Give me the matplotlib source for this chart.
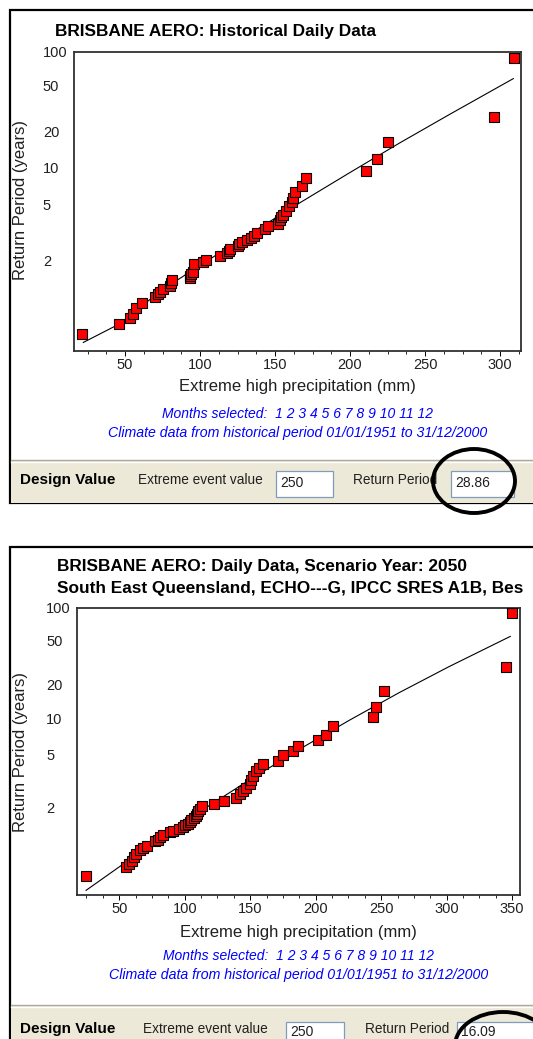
import numpy as np
import matplotlib
matplotlib.use("Agg")
import matplotlib.pyplot as plt
from matplotlib.patches import Rectangle, Ellipse

# ============================================================
# Data
# ============================================================

W, H = 533, 1039

hist_mm = [21.5, 46, 53.5, 55, 57.5, 61.5, 70, 72, 73.5, 75, 80, 80.5, 81,
           93, 93.5, 94, 95, 96, 102, 104, 113, 118, 119, 120, 125, 126, 128,
           131, 134, 136, 138, 143, 145, 152, 153, 154, 155, 157, 159, 161,
           162, 163.5, 168, 170.5, 210.5, 218, 225, 296, 309]
hist_rp = [1.046, 1.084, 1.12, 1.146, 1.19, 1.24, 1.30, 1.33, 1.36, 1.40,
           1.45, 1.50, 1.55, 1.58, 1.62, 1.66, 1.71, 1.89, 1.95, 2.00, 2.12,
           2.20, 2.27, 2.34, 2.45, 2.53, 2.62, 2.70, 2.80, 2.90, 3.02, 3.25,
           3.40, 3.55, 3.75, 3.95, 4.15, 4.45, 4.80, 5.2, 5.6, 6.2, 7.0, 8.2,
           9.3, 11.8, 16.2, 27.0, 88.0]
hist_fit_mm = [22.2, 46.7, 73.3, 100, 133.3, 166.7, 200, 233.3, 266.7, 308.9]
hist_fit_rp = [1.0255, 1.0875, 1.369, 1.86, 2.99, 5.14, 9.04, 16.1, 28.4, 57.9]

scen_mm = [24.5, 55.5, 57.5, 59.5, 61, 62.5, 66, 68.5, 71.5, 77, 79.5, 81,
           83.5, 88.5, 91, 96, 99, 100.5, 102.5, 104, 105, 107, 108.5, 109.5,
           110.5, 111.5, 113.5, 122, 130, 139, 142, 144.5, 147, 149.5, 150.5,
           152.5, 154.5, 156.5, 159.5, 171.5, 175, 183, 186.5, 201.5, 208,
           213, 243.5, 246, 252, 345, 350]
scen_rp = [1.057, 1.099, 1.115, 1.135, 1.165, 1.19, 1.225, 1.245, 1.265,
           1.32, 1.345, 1.385, 1.415, 1.45, 1.475, 1.51, 1.55, 1.58, 1.61,
           1.64, 1.68, 1.73, 1.78, 1.84, 1.90, 1.97, 2.05, 2.12, 2.22, 2.33,
           2.46, 2.59, 2.74, 2.93, 3.1, 3.36, 3.63, 3.86, 4.15, 4.42, 4.95,
           5.33, 5.88, 6.56, 7.29, 8.56, 10.3, 12.6, 17.6, 28.6, 90.0]
scen_fit_mm = [24.7, 73.4, 111.4, 149.5, 187.5, 225.6, 263.6, 301.7, 348.6]
scen_fit_rp = [1.019, 1.275, 1.885, 3.128, 5.47, 9.66, 16.9, 28.95, 54.5]

rp_ticks = [2, 5, 10, 20, 50, 100]

hist_title = ["BRISBANE AERO: Historical Daily Data"]
# the second line is cut at the window edge in the screenshot
scen_title = ["BRISBANE AERO: Daily Data, Scenario Year: 2050",
              "South East Queensland, ECHO---G, IPCC SRES A1B, Bes"]
months_text = "Months selected:  1 2 3 4 5 6 7 8 9 10 11 12"
period_text = "Climate data from historical period 01/01/1951 to 31/12/2000"
event_value = "250"
hist_period = "28.86"
scen_period = "16.09"

# ============================================================
# Gumbel probability scale
# ============================================================

def gumbel_fwd(t):
    t = np.clip(np.asarray(t, dtype=float), 1.000001, None)
    return -np.log(-np.log(1.0 - 1.0 / t))


def gumbel_inv(y):
    y = np.asarray(y, dtype=float)
    return 1.0 / (1.0 - np.exp(-np.exp(-y)))


FONT = "Liberation Sans"
plt.rcParams["font.family"] = [FONT, "DejaVu Sans"]

fig = plt.figure(figsize=(W / 100, H / 100), dpi=100)

bg = fig.add_axes([0, 0, 1, 1], zorder=0)
bg.set_xlim(0, W)
bg.set_ylim(H, 0)
bg.axis("off")

BEIGE = "#ece9d8"
BLUE = "#0000ff"
GREYTXT = "#202020"


def px_axes(l, t, r, b):
    return fig.add_axes([l / W, 1 - b / H, (r - l) / W, (b - t) / H], zorder=2)


def panel(top, bottom, bar_top):
    bg.add_patch(Rectangle((10, top), 600, bottom - top, facecolor="white",
                           edgecolor="black", linewidth=1.6, zorder=1))
    bg.add_patch(Rectangle((11, bar_top), 600, bottom - bar_top,
                           facecolor=BEIGE, edgecolor="none", zorder=2))
    bg.plot([11, 600], [bar_top, bar_top], color="#aca899", lw=1.0, zorder=3)
    bg.plot([11, 600], [bar_top + 1.5, bar_top + 1.5], color="white",
            lw=1.0, zorder=3)


def text_box(x0, y0, x1, y1, txt, ty):
    bg.add_patch(Rectangle((x0, y0), x1 - x0, y1 - y0, facecolor="white",
                           edgecolor="#7f9db9", linewidth=0.9, zorder=4))
    bg.text(x0 + 4, ty, txt, fontsize=10, ha="left", va="center",
            color=GREYTXT, zorder=5)


def chart(box, mm, rp, fit_mm, fit_rp, xlim, xmajor, titles, title_x,
          title_y, ylab_y, xlab_y, blue_y):
    ax = px_axes(*box)
    ax.set_yscale("function", functions=(gumbel_fwd, gumbel_inv))
    ax.plot(fit_mm, fit_rp, color="black", lw=0.8, zorder=2)
    ax.plot(mm, rp, linestyle="none", marker="s", markersize=7.6,
            markerfacecolor="#ff0000", markeredgecolor="black",
            markeredgewidth=0.8, zorder=3, clip_on=False)
    ax.set_xlim(*xlim)
    ax.set_ylim(1.0125, 100)
    ax.set_yticks(rp_ticks)
    ax.set_yticklabels([str(v) for v in rp_ticks])
    ax.yaxis.set_minor_locator(matplotlib.ticker.NullLocator())
    ax.set_xticks(xmajor)
    ax.set_xticklabels([str(v) for v in xmajor])
    minors = np.arange(0, xlim[1] + 1, 12.5)
    ax.set_xticks([m for m in minors if xlim[0] <= m <= xlim[1]], minor=True)
    ax.tick_params(axis="y", length=0, pad=22.5, labelsize=10.5,
                   labelcolor=GREYTXT)
    for lab in ax.get_yticklabels():
        lab.set_horizontalalignment("left")
    ax.tick_params(axis="x", which="major", direction="out", length=3.5,
                   width=0.7, pad=1.5, labelsize=10.5, labelcolor=GREYTXT)
    ax.tick_params(axis="x", which="minor", direction="out", length=2.5,
                   width=0.6)
    for s in ax.spines.values():
        s.set_linewidth(1.3)
        s.set_color("#303030")

    l, t, r, b = box
    for i, line in enumerate(titles):
        bg.text(title_x, title_y + i * 22.5, line, fontsize=12.4,
                fontweight="bold", ha="left", va="center", zorder=5)
    bg.text(21, ylab_y, "Return Period (years)", rotation=90, fontsize=12,
            ha="center", va="center", color=GREYTXT, zorder=5)
    bg.text((l + r) / 2, xlab_y, "Extreme high precipitation (mm)",
            fontsize=12, ha="center", va="center", color=GREYTXT, zorder=5)
    bg.text((l + r) / 2, blue_y, months_text, fontsize=10, style="italic",
            color=BLUE, ha="center", va="center", zorder=5)
    bg.text((l + r) / 2, blue_y + 18.5, period_text, fontsize=10.2,
            style="italic", color=BLUE, ha="center", va="center", zorder=5)
    return ax


def design_bar(y_mid, lab_x, box1, rp_x, label2, box2, ell):
    bg.text(20, y_mid, "Design Value", fontsize=11, fontweight="bold",
            ha="left", va="center", zorder=5)
    bg.text(lab_x, y_mid, "Extreme event value", fontsize=9.8,
            ha="left", va="center", color=GREYTXT, zorder=5)
    text_box(box1[0], box1[1], box1[2], box1[3], event_value, y_mid + 3)
    bg.text(rp_x, y_mid, "Return Period", fontsize=9.8, ha="left",
            va="center", color=GREYTXT, zorder=5)
    text_box(box2[0], box2[1], box2[2], box2[3], label2, y_mid + 3)
    bg.add_patch(Ellipse(ell[:2], ell[2], ell[3], facecolor="none",
                         edgecolor="black", linewidth=2.8, zorder=6))


# ============================================================
# Top panel: historical
# ============================================================

panel(10, 503, 460)
chart((74, 51.5, 521, 351), hist_mm, hist_rp, hist_fit_mm, hist_fit_rp,
      (16, 314), [50, 100, 150, 200, 250, 300], hist_title, 55, 31.5, 200,
      386.5, 414)
design_bar(480, 138, (276, 470.5, 333, 496.5), 353, hist_period,
           (451, 470.5, 514, 496.5), (474, 481, 82, 64))

# ============================================================
# Bottom panel: scenario 2050
# ============================================================

panel(547, 1060, 1005)
chart((77.3, 607.5, 520, 895), scen_mm, scen_rp, scen_fit_mm, scen_fit_rp,
      (18, 356), [50, 100, 150, 200, 250, 300, 350], scen_title, 57, 566.5,
      752, 933, 956)
design_bar(1029, 143, (286, 1021.5, 344, 1050), 365, scen_period,
           (457, 1021.5, 560, 1050), (503, 1046, 96, 68))

fig.savefig("out.png", dpi=100)
